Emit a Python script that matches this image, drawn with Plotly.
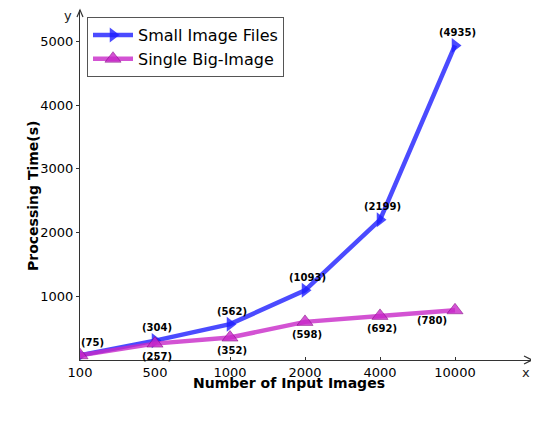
import plotly.graph_objects as go

categories = ["100", "500", "1000", "2000", "4000", "10000"]
small_files = [75, 304, 562, 1093, 2199, 4935]
big_image = [75, 257, 352, 598, 692, 780]
y_ticks = [1000, 2000, 3000, 4000, 5000]

# page body has an 8px margin; figure coordinates are reference pixels minus 8
OFF = 8
RL, RR, RT, RB = 80, 532, 10, 360
L, R, T, B = RL - OFF, RR - OFF, RT - OFF, RB - OFF
W, H = 539 - OFF, 432 - OFF

def px(x):
    return (x - OFF - L) / (R - L)

def py(y):
    return (B - (y - OFF)) / (B - T)

xs = list(range(len(categories)))
fig = go.Figure()
fig.add_trace(go.Scatter(
    x=xs, y=small_files, mode="lines+markers", name="Small Image Files",
    line=dict(color="rgba(30,30,255,0.8)", width=4.5),
    marker=dict(symbol="triangle-right", size=13, color="rgba(30,30,255,0.8)",
                line=dict(width=0)),
))
fig.add_trace(go.Scatter(
    x=xs, y=big_image, mode="lines+markers", name="Single Big-Image",
    line=dict(color="rgba(200,40,200,0.8)", width=4.5),
    marker=dict(symbol="triangle-up", size=14, color="rgba(200,40,200,0.8)",
                line=dict(width=0.6, color="rgba(120,0,120,0.8)")),
))

ann = []
lab_font = dict(family="DejaVu Sans", size=10, color="black")
for i, v in enumerate(small_files):
    xsft = 12 if i == 0 else 2
    ann.append(dict(x=i, y=v, xref="x", yref="y", text="<b>(%d)</b>" % v,
                    xanchor="center", yanchor="middle",
                    showarrow=False, yshift=13, xshift=xsft, font=lab_font))
for i, v in enumerate(big_image):
    if i == 0:
        continue
    xsft = -23 if i == 5 else 2
    ysft = -10 if i == 5 else -13
    ann.append(dict(x=i, y=v, xref="x", yref="y", text="<b>(%d)</b>" % v,
                    xanchor="center", yanchor="middle",
                    showarrow=False, yshift=ysft, xshift=xsft, font=lab_font))

ann.append(dict(x=px(289), y=py(383), xref="paper", yref="paper",
                xanchor="center", yanchor="middle",
                text="<b>Number of Input Images</b>", showarrow=False,
                font=dict(family="DejaVu Sans", size=14, color="black")))
ann.append(dict(x=px(33), y=py(196), xref="paper", yref="paper",
                xanchor="center", yanchor="middle",
                text="<b>Processing Time(s)</b>", showarrow=False, textangle=-90,
                font=dict(family="DejaVu Sans", size=14, color="black")))
ann.append(dict(x=px(526), y=py(372), xref="paper", yref="paper", text="x",
                xanchor="center", yanchor="middle",
                showarrow=False, font=dict(family="DejaVu Sans", size=13, color="#222")))
ann.append(dict(x=px(68), y=py(16), xref="paper", yref="paper", text="y",
                xanchor="center", yanchor="middle",
                showarrow=False, font=dict(family="DejaVu Sans", size=13, color="#222")))

ac = "#333"
shapes = [
    dict(type="path", xref="paper", yref="paper",
         path="M %f %f L %f %f L %f %f" % (px(524), py(356), px(532), py(360), px(524), py(364)),
         line=dict(color=ac, width=1.2)),
    dict(type="path", xref="paper", yref="paper",
         path="M %f %f L %f %f L %f %f" % (px(77), py(17), px(80), py(10), px(83), py(17)),
         line=dict(color=ac, width=1.2)),
]

fig.update_layout(
    width=W, height=H,
    margin=dict(l=L, r=W - R, t=T, b=H - B, pad=0),
    paper_bgcolor="white", plot_bgcolor="white",
    font=dict(family="DejaVu Sans", size=13, color="black"),
    showlegend=True,
    legend=dict(x=px(87), y=py(17), xanchor="left", yanchor="top",
                bgcolor="white", bordercolor="#555", borderwidth=1,
                font=dict(family="DejaVu Sans", size=16, color="black"),
                itemwidth=40, tracegroupgap=0),
    annotations=ann, shapes=shapes,
    xaxis=dict(range=[0, (RR - RL) / 75.0], tickvals=xs, ticktext=categories,
               showgrid=False, zeroline=False, showline=True, linecolor=ac, linewidth=1.2,
               ticks="inside", ticklen=3, tickcolor=ac, tickfont=dict(size=13)),
    yaxis=dict(range=[0, (RB - RT) / 63.75 * 1000], tickvals=y_ticks,
               showgrid=False, zeroline=False, showline=True, linecolor=ac, linewidth=1.2,
               ticks="outside", ticklen=3, tickcolor=ac, tickfont=dict(size=13)),
)
fig.write_html("out.html")
